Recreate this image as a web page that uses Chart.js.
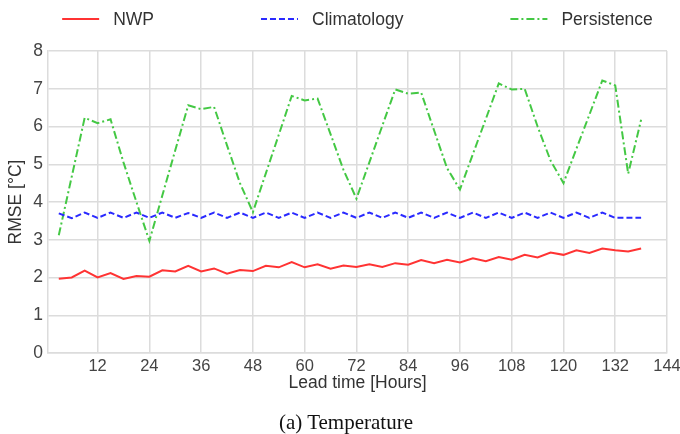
<!DOCTYPE html>
<html>
<head>
<meta charset="utf-8">
<script src="https://cdn.jsdelivr.net/npm/chart.js@4.4.1/dist/chart.umd.min.js"></script>
<style>
    body { margin: 0; background: #fff; }
    #wrap { position: relative; width: 680px; height: 434px; }
    #caption {
        position: absolute; left: 0; top: 410px; width: 692px;
        text-align: center; font: 21px "Liberation Serif", "Times New Roman", serif; color: #111;
    }
</style>
</head>
<body>
<div id="wrap">
    <canvas id="chart" width="680" height="434"></canvas>
    <div id="caption">(a) Temperature</div>
</div>
<script>
// Lead time in hours
const hours = [3, 6, 9, 12, 15, 18, 21, 24, 27, 30, 33, 36, 39, 42, 45, 48,
    51, 54, 57, 60, 63, 66, 69, 72, 75, 78, 81, 84, 87, 90, 93, 96,
    99, 102, 105, 108, 111, 114, 117, 120, 123, 126, 129, 132, 135, 138];

const nwp = [1.97, 2.00, 2.18, 2.00, 2.12, 1.96, 2.04, 2.02, 2.19, 2.16, 2.31, 2.16, 2.24, 2.10, 2.20, 2.17,
    2.31, 2.27, 2.41, 2.27, 2.35, 2.23, 2.32, 2.28, 2.35, 2.28, 2.38, 2.34, 2.46, 2.38, 2.47, 2.40,
    2.51, 2.43, 2.54, 2.47, 2.60, 2.53, 2.66, 2.60, 2.72, 2.65, 2.77, 2.72, 2.69, 2.77];

const climatology = [3.70, 3.57, 3.72, 3.58, 3.72, 3.58, 3.72, 3.58, 3.72, 3.58, 3.71, 3.58, 3.72, 3.58, 3.72, 3.58,
    3.72, 3.58, 3.72, 3.58, 3.72, 3.58, 3.72, 3.58, 3.72, 3.58, 3.72, 3.58, 3.72, 3.58, 3.72, 3.58,
    3.72, 3.58, 3.72, 3.58, 3.72, 3.58, 3.72, 3.58, 3.72, 3.58, 3.72, 3.58, 3.58, 3.58];

const persistence = [3.12, 4.67, 6.23, 6.09, 6.19, 5.05, 4.00, 2.97, 4.17, 5.37, 6.56, 6.46, 6.52, 5.50, 4.50, 3.73,
    4.76, 5.78, 6.81, 6.69, 6.74, 5.80, 4.85, 4.09, 5.05, 6.02, 6.98, 6.87, 6.90, 5.90, 4.90, 4.33,
    5.27, 6.20, 7.14, 6.98, 7.00, 6.00, 5.10, 4.50, 5.41, 6.31, 7.22, 7.09, 4.75, 6.18];

const xTicks = [12, 24, 36, 48, 60, 72, 84, 96, 108, 120, 132, 144];
const yTicks = [0, 1, 2, 3, 4, 5, 6, 7, 8];

const FONT = '"Liberation Sans", Arial, sans-serif';
const GRID = '#dcdcdc';

function points(values) {
    return hours.map((h, i) => ({ x: h, y: values[i] }));
}

// legend drawn as matplotlib-style row above the plot
const lineLegend = {
    id: 'lineLegend',
    afterDraw(chart) {
        const ctx = chart.ctx;
        const area = chart.chartArea;
        const lineLen = 37, textGap = 14, itemGap = 107, y = 19;
        ctx.save();
        ctx.font = '17.5px ' + FONT;
        const items = chart.data.datasets.map(ds => ({
            ds: ds,
            w: lineLen + textGap + ctx.measureText(ds.label).width
        }));
        const total = items.reduce((s, it) => s + it.w, 0) + itemGap * (items.length - 1);
        let x = (area.left + area.right) / 2 - total / 2;
        items.forEach(it => {
            ctx.beginPath();
            ctx.strokeStyle = it.ds.borderColor;
            ctx.lineWidth = it.ds.borderWidth;
            ctx.setLineDash(it.ds.borderDash || []);
            ctx.moveTo(x, y);
            ctx.lineTo(x + lineLen, y);
            ctx.stroke();
            ctx.setLineDash([]);
            ctx.fillStyle = '#333';
            ctx.textBaseline = 'middle';
            ctx.fillText(it.ds.label, x + lineLen + textGap, y + 1);
            x += it.w + itemGap;
        });
        ctx.restore();
    }
};

new Chart(document.getElementById('chart'), {
    type: 'line',
    data: {
        datasets: [{
            label: 'NWP',
            data: points(nwp),
            borderColor: '#ff3333',
            borderWidth: 2
        }, {
            label: 'Climatology',
            data: points(climatology),
            borderColor: '#2a2aff',
            borderWidth: 2,
            borderDash: [6, 3]
        }, {
            label: 'Persistence',
            data: points(persistence),
            borderColor: '#44c844',
            borderWidth: 2,
            borderDash: [8, 3, 2, 3]
        }]
    },
    options: {
        responsive: false,
        animation: false,
        elements: {
            point: { radius: 0 },
            line: { tension: 0 }
        },
        layout: {
            padding: { top: 51, right: 13, bottom: 40, left: 0 }
        },
        plugins: {
            legend: { display: false },
            tooltip: { enabled: false }
        },
        scales: {
            x: {
                type: 'linear',
                min: 0.5,
                max: 144,
                afterBuildTicks: s => { s.ticks = xTicks.map(v => ({ value: v })); },
                afterFit: s => {
                    s.height = 41;
                    s.paddingLeft = 0;
                    s.paddingRight = 0;
                },
                ticks: {
                    color: '#444',
                    font: { family: FONT, size: 16.5 },
                    padding: 4,
                    maxRotation: 0,
                    autoSkip: false
                },
                grid: { color: GRID, lineWidth: 1.5, drawTicks: false },
                border: { color: GRID, width: 1.5 },
                title: {
                    display: true,
                    text: 'Lead time [Hours]',
                    color: '#333',
                    font: { family: FONT, size: 17.5 },
                    padding: 0
                }
            },
            y: {
                min: 0,
                max: 8,
                afterBuildTicks: s => { s.ticks = yTicks.map(v => ({ value: v })); },
                afterFit: s => { s.width = 48; },
                ticks: {
                    color: '#444',
                    font: { family: FONT, size: 17.5 },
                    padding: 5
                },
                grid: { color: GRID, lineWidth: 1.5, drawTicks: false },
                border: { color: GRID, width: 1.5 },
                title: {
                    display: true,
                    text: 'RMSE [°C]',
                    color: '#333',
                    font: { family: FONT, size: 17.5 },
                    padding: { top: 6, bottom: 0 }
                }
            }
        }
    },
    plugins: [lineLegend]
});
</script>
</body>
</html>
